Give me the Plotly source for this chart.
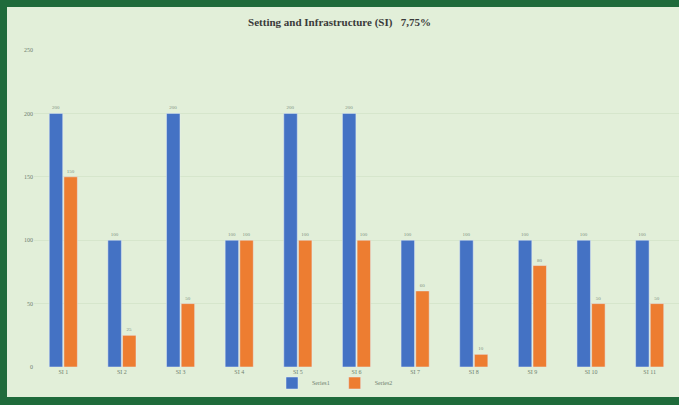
import plotly.graph_objects as go

categories = ["SI 1", "SI 2", "SI 3", "SI 4", "SI 5", "SI 6", "SI 7", "SI 8", "SI 9", "SI 10", "SI 11"]
series1 = [200, 100, 200, 100, 200, 200, 100, 100, 100, 100, 100]
series2 = [150, 25, 50, 100, 100, 100, 60, 10, 80, 50, 50]
y_ticks = [0, 50, 100, 150, 200, 250]
title_text = "Setting and Infrastructure (SI)   7,75%"

W, H = 679, 405
ml, mr, mt, mb = 34, 0, 50, 38
pw, ph = W - ml - mr, H - mt - mb

def px_x(p):
    return (p - ml) / pw

def px_y(p):
    return (H - mb - p) / ph

fig = go.Figure()
fig.add_trace(go.Bar(x=categories, y=series1, name="Series1", marker_color="#4472c4",
                     text=series1, textposition="outside",
                     textfont=dict(size=5, color="#7f8f7f"), cliponaxis=False))
fig.add_trace(go.Bar(x=categories, y=series2, name="Series2", marker_color="#ed7d31",
                     text=series2, textposition="outside",
                     textfont=dict(size=5, color="#7f8f7f"), cliponaxis=False))

green = "#1f6b3b"
shapes = [
    dict(type="rect", xref="paper", yref="paper", x0=px_x(0), x1=px_x(W), y0=px_y(0), y1=px_y(7),
         fillcolor=green, line_width=0, layer="above"),
    dict(type="rect", xref="paper", yref="paper", x0=px_x(0), x1=px_x(7), y0=px_y(0), y1=px_y(H),
         fillcolor=green, line_width=0, layer="above"),
    dict(type="rect", xref="paper", yref="paper", x0=px_x(0), x1=px_x(W), y0=px_y(397), y1=px_y(H),
         fillcolor=green, line_width=0, layer="above"),
]

fig.update_layout(
    width=W, height=H,
    margin=dict(l=ml, r=mr, t=mt, b=mb),
    paper_bgcolor="#e2efd9", plot_bgcolor="#e2efd9",
    barmode="group", bargap=0.5, bargroupgap=0.08,
    font=dict(family="Liberation Serif", color="#595959"),
    title=dict(text="<b>" + title_text + "</b>", x=0.5, xanchor="center",
               y=1 - 22 / H, yanchor="middle",
               font=dict(family="Liberation Serif", size=11, color="#3a3a3a")),
    xaxis=dict(showgrid=False, showline=False, tickfont=dict(size=6, color="#6f7f6f"),
               ticks="", ticklen=0),
    yaxis=dict(range=[0, 250], tickvals=y_ticks, showgrid=True, gridcolor="#d6e6cc",
               gridwidth=1, zeroline=False, showline=False,
               tickfont=dict(size=6, color="#6f7f6f")),
    legend=dict(orientation="h", x=px_x(335), xanchor="center", y=px_y(383), yanchor="middle",
                font=dict(size=6, color="#6f7f6f"), bgcolor="rgba(0,0,0,0)",
                itemwidth=30),
    shapes=shapes,
)

fig.write_html("out.html", config={"displayModeBar": False},
               post_script=("document.body.style.margin='0';"
                            "document.body.style.overflow='hidden';"
                            "document.body.style.background='#e2efd9';"
                            "document.documentElement.style.background='#e2efd9';"))
